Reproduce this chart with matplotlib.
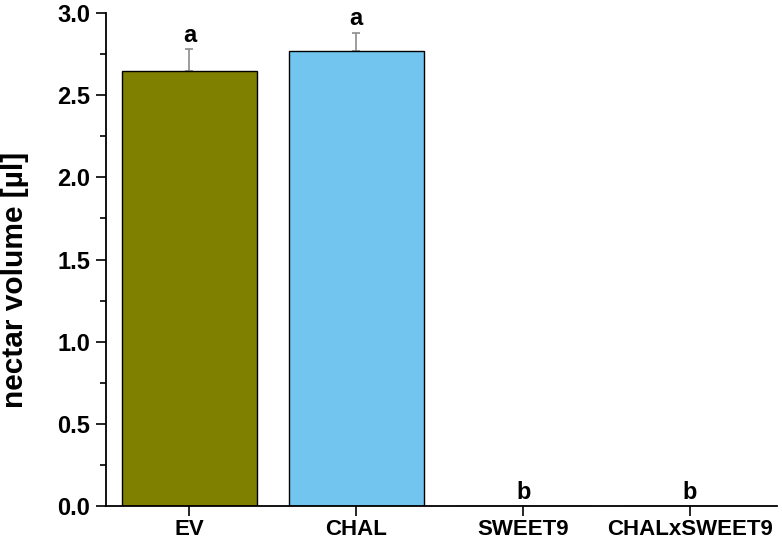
import numpy as np
import matplotlib
matplotlib.use("Agg")
from matplotlib import pyplot as plt
from matplotlib.ticker import MultipleLocator

# data
groups = ["EV", "CHAL", "SWEET9", "CHALxSWEET9"]
volume = [2.65, 2.77, 0.0, 0.0]
err = [0.13, 0.11, 0.0, 0.0]
letters = ["a", "a", "b", "b"]
colors = ["#808000", "#71C5EF", "#FFFFFF", "#FFFFFF"]

plt.rcParams['font.family'] = ['Liberation Sans', 'DejaVu Sans']
plt.rcParams['font.weight'] = 'bold'

fig = plt.figure(figsize=(7.82, 5.44), dpi=100)
ax = fig.add_axes([0.1355, 0.0699, 0.858, 0.906])

x = np.arange(1, len(groups) + 1)
ax.bar(x, volume, width=0.81, color=colors, edgecolor="black", linewidth=1.0, zorder=2)
# nur obere haelfte vom fehlerbalken
ax.errorbar(x[:2], volume[:2], yerr=[np.zeros(2), err[:2]], fmt="none",
            ecolor="#8c8c8c", elinewidth=1.2, capsize=3, capthick=1.2, zorder=1)

for xi, v, e, l in zip(x, volume, err, letters):
    ax.text(xi, v + e + 0.045, l, ha="center", va="baseline", fontsize=17, fontweight="bold")

ax.set_xlim(0.5, 4.52)
ax.set_ylim(0, 3.0)
ax.set_xticks(x)
ax.set_xticklabels(groups, fontsize=16, fontweight="bold")
ax.yaxis.set_major_locator(MultipleLocator(0.5))
ax.yaxis.set_minor_locator(MultipleLocator(0.25))
ax.set_yticklabels([f"{t:.1f}" for t in ax.get_yticks()], fontsize=17, fontweight="bold")
ax.tick_params(axis="y", which="major", direction="out", length=7.5, width=1.2, pad=4)
ax.tick_params(axis="x", which="major", direction="out", length=7.5, width=1.2, pad=2)
ax.tick_params(axis="y", which="minor", direction="out", length=4, width=1.2)
ax.set_ylabel("nectar volume [µl]", fontsize=21.5, fontweight="bold")
ax.yaxis.set_label_coords(-0.115, 0.458)

ax.spines["top"].set_visible(False)
ax.spines["right"].set_visible(False)
ax.spines["left"].set_linewidth(1.3)
ax.spines["bottom"].set_linewidth(1.3)

fig.savefig("out.png", dpi=100)
